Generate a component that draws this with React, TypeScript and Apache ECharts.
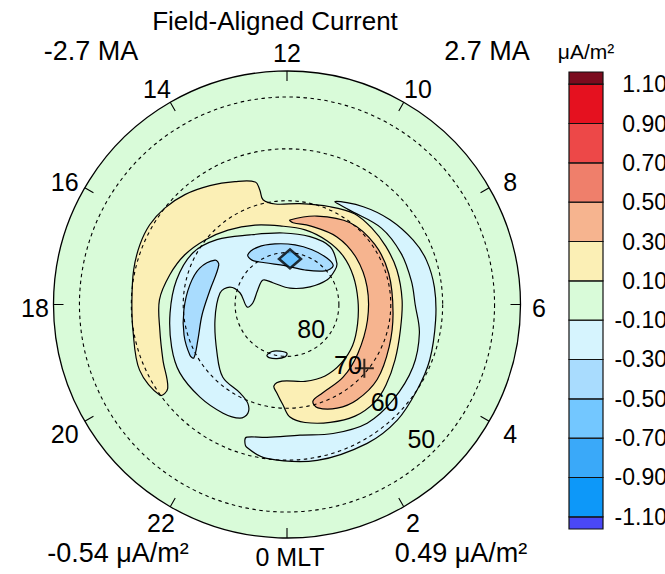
import { useEffect, useRef } from 'react';
import * as echarts from 'echarts';

const TITLE = 'Field-Aligned Current';
const mltTicks = [0, 2, 4, 6, 8, 10, 12, 14, 16, 18, 20, 22];
const latCircles = [80, 70, 60, 50];
const latRange = [45, 90];
const levels = [-1.1, -0.9, -0.7, -0.5, -0.3, -0.1, 0.1, 0.3, 0.5, 0.7, 0.9, 1.1];
const bandColors = ['#4a48f6', '#0d98f9', '#3aa9f9', '#73c7ff', '#a9dcfe', '#d6f4fe', '#d9fbd9', '#fbefb5', '#f6b48f', '#ef7f6b', '#ed4848', '#e5111f', '#7b0b1e'];
const cornerTopLeft = '-2.7 MA';
const cornerTopRight = '2.7 MA';
const cornerBottomLeft = '-0.54 μA/m²';
const cornerBottomRight = '0.49 μA/m²';
const unitLabel = 'μA/m²';

// contour regions, points are [MLT, latitude]
const yellowC = [
  [20.37, 59.9], [19.6, 58.9], [18.63, 59.9], [17.89, 60.1], [17.15, 59.7], [16.53, 59.4], [15.99, 59.4], [15.45, 60.0],
  [14.86, 61.1], [14.2, 62.7], [13.53, 64.3], [12.97, 65.6], [12.89, 67.3], [12.86, 69.3], [12.45, 70.5], [11.51, 70.4],
  [10.41, 69.4], [9.56, 68.2], [8.81, 68.0], [8.03, 67.9], [7.17, 67.8], [6.15, 67.8], [5.15, 67.6], [4.19, 66.6],
  [3.39, 65.4], [2.81, 64.7], [2.09, 64.8], [1.34, 65.8], [0.58, 67.0], [0.1, 68.3], [23.85, 70.6], [23.57, 72.8],
  [23.39, 74.1], [23.75, 75.2], [0.88, 74.8], [1.87, 74.4], [2.85, 74.6], [3.87, 75.1], [4.98, 75.9], [6.23, 76.3],
  [7.54, 76.1], [8.7, 75.7], [9.84, 75.5], [11.09, 75.2], [12.34, 74.8], [13.46, 73.5], [14.56, 71.7], [15.45, 69.9],
  [16.27, 68.1], [17.05, 66.7], [17.86, 65.4], [18.76, 65.0], [19.61, 63.8], [20.34, 61.9],
];
const orangeC = [
  [11.87, 73.7], [10.75, 72.0], [9.49, 70.1], [8.29, 69.5], [7.13, 69.5], [5.7, 69.5], [4.51, 68.7], [3.35, 67.4],
  [2.41, 67.2], [1.72, 67.8], [1.11, 69.2], [1.0, 70.7], [1.44, 71.6], [2.51, 72.3], [3.69, 73.4], [5.26, 74.2],
  [6.83, 74.2], [8.27, 73.9], [9.57, 73.8], [10.91, 74.2], [11.72, 74.2],
];
const blueRight = [
  [10.33, 68.1], [9.47, 66.1], [8.63, 64.3], [7.8, 62.7], [7.17, 61.8], [6.44, 61.4], [5.6, 61.2], [4.59, 60.5],
  [3.78, 60.0], [2.91, 59.2], [2.0, 59.1], [0.73, 59.4], [23.5, 60.1], [22.95, 61.4], [22.85, 62.6], [22.88, 63.3],
  [23.43, 64.1], [0.38, 64.7], [1.31, 63.6], [2.27, 62.4], [3.2, 62.5], [4.24, 62.9], [5.19, 63.9], [6.0, 65.3],
  [6.7, 65.6], [7.6, 65.9], [8.6, 66.6], [9.8, 68.2],
];
const blueC = [
  [8.65, 77.5], [9.55, 76.1], [10.75, 76.2], [12.21, 76.2], [13.87, 74.8], [15.15, 71.6], [16.09, 69.3], [17.16, 68.2],
  [18.28, 67.4], [19.35, 66.3], [20.17, 65.5], [21.12, 65.5], [21.97, 65.7], [22.5, 66.3], [22.68, 67.7], [22.56, 69.5],
  [22.13, 70.7], [21.24, 71.3], [20.31, 73.6], [18.81, 75.8], [17.35, 76.9], [16.87, 78.5], [17.08, 80.7], [18.24, 82.3],
  [17.83, 83.4], [16.23, 83.7], [14.96, 83.4], [14.2, 85.0], [11.31, 86.8], [8.49, 84.4], [8.1, 80.9], [8.38, 78.6],
];
const blueSmall = [
  [22.56, 79.5], [22.82, 80.5], [23.43, 80.9], [24.0, 80.6], [23.85, 79.9], [23.3, 79.4], [22.75, 79.2],
];
const midBlueLeft = [
  [15.89, 73.7], [16.48, 71.8], [17.24, 70.9], [18.2, 70.1], [19.1, 69.3], [19.83, 68.9], [19.99, 69.3], [19.45, 71.5],
  [18.47, 73.5], [17.29, 74.9], [15.99, 74.8],
];
const midBlueTop = [
  [14.55, 77.8], [13.79, 77.6], [12.75, 78.1], [11.49, 78.4], [10.36, 78.4], [9.29, 78.2], [8.66, 78.4], [8.76, 80.2],
  [10.16, 82.5], [12.2, 82.5], [13.86, 80.9], [14.55, 79.1],
];
const minMarker = [81.2, 11.75]; // [lat, MLT]
const maxMarker = [70.7, 3.37];

const regionList = [
  { pts: yellowC, band: 7 },
  { pts: orangeC, band: 8 },
  { pts: blueRight, band: 5 },
  { pts: blueC, band: 5 },
  { pts: blueSmall, band: 5 },
  { pts: midBlueLeft, band: 4 },
  { pts: midBlueTop, band: 4 },
];

const FONT = '"Liberation Sans", Arial, Helvetica, sans-serif';

export default function App() {
  const ref = useRef<HTMLDivElement>(null);
  useEffect(() => {
    document.body.style.margin = '0';
    if (!ref.current) return;
    const chart = echarts.init(ref.current, undefined, { renderer: 'svg' });
    const ext = 0.062;

    const radial = (api: any, lat: number, mlt: number, factor = 1) => {
      const c = api.coord([latRange[1], 0]);
      const e = api.coord([lat, mlt]);
      return [c[0] + (e[0] - c[0]) * factor, c[1] + (e[1] - c[1]) * factor];
    };
    const txt = (x: number, y: number, text: string, size: number, align = 'center') => ({
      type: 'text', x, y,
      style: { text, fontSize: size, fontFamily: FONT, fill: '#000', align, verticalAlign: 'middle' },
    });

    const option: any = {
      animation: false,
      textStyle: { fontFamily: FONT },
      polar: { center: [287, 304.5], radius: 233.5 },
      angleAxis: {
        type: 'value', min: 0, max: 24, interval: 2, startAngle: 270, clockwise: false, z: 20,
        axisLine: { lineStyle: { color: '#000', width: 1.3 } },
        axisTick: { inside: true, length: 10, lineStyle: { color: '#000', width: 1.1 } },
        axisLabel: { show: false },
        splitLine: { show: false },
      },
      radiusAxis: {
        type: 'value', min: latRange[0], max: latRange[1], inverse: true,
        axisLine: { show: false }, axisTick: { show: false }, axisLabel: { show: false }, splitLine: { show: false },
      },
      grid: { left: 569, top: 72, width: 34, height: 457 },
      xAxis: { type: 'value', min: 0, max: 1, show: false },
      yAxis: { type: 'value', min: levels[0] - ext, max: levels[levels.length - 1] + ext, show: false },
      graphic: [
        txt(275, 21, TITLE, 26),
        txt(91, 51, cornerTopLeft, 27),
        txt(487, 51, cornerTopRight, 27),
        txt(118, 553, cornerBottomLeft, 27),
        txt(461, 553, cornerBottomRight, 27),
        txt(586, 51, unitLabel, 21),
      ],
      series: [
        {
          type: 'custom', coordinateSystem: 'polar', z: 1, silent: true,
          data: [[latRange[0], 0]],
          renderItem: (params: any, api: any) => {
            const c = api.coord([latRange[1], 0]);
            const e = api.coord([latRange[0], 0]);
            const r = Math.hypot(e[0] - c[0], e[1] - c[1]);
            return { type: 'circle', shape: { cx: c[0], cy: c[1], r }, style: { fill: bandColors[6] } };
          },
        },
        {
          type: 'custom', coordinateSystem: 'polar', z: 2, silent: true,
          data: regionList.map((r) => [r.pts[0][1], r.pts[0][0]]),
          renderItem: (params: any, api: any) => {
            const reg = regionList[params.dataIndex];
            const points = reg.pts.map(([m, lat]) => api.coord([lat, m]));
            return {
              type: 'polygon',
              shape: { points, smooth: 0.35 },
              style: { fill: bandColors[reg.band], stroke: '#000', lineWidth: 1.2 },
            };
          },
        },
        {
          type: 'custom', coordinateSystem: 'polar', z: 3, silent: true,
          data: latCircles.map((l) => [l, 3]),
          renderItem: (params: any, api: any) => {
            const lat = latCircles[params.dataIndex];
            const c = api.coord([latRange[1], 0]);
            const e = api.coord([lat, 0]);
            const r = Math.hypot(e[0] - c[0], e[1] - c[1]);
            const lp = api.coord([lat + 3.4, 3]);
            return {
              type: 'group',
              children: [
                { type: 'circle', shape: { cx: c[0], cy: c[1], r }, style: { fill: 'none', stroke: '#000', lineWidth: 1.1, lineDash: [3.5, 3.5] } },
                txt(lp[0], lp[1], String(lat), 25),
              ],
            };
          },
        },
        {
          type: 'custom', coordinateSystem: 'polar', z: 3, silent: true,
          data: mltTicks.map((m) => [latRange[0], m]),
          renderItem: (params: any, api: any) => {
            const m = mltTicks[params.dataIndex];
            const p = radial(api, latRange[0], m, 252 / 233.5);
            const dx = m === 0 ? 3 : m === 14 || m === 16 || m === 20 ? -4 : m === 10 || m === 8 || m === 4 ? 5 : 0;
            const dy = m === 0 || m === 12 || m === 22 || m === 2 ? 0 : 3;
            return txt(p[0] + dx, p[1] + dy, m === 0 ? '0 MLT' : String(m), 25);
          },
        },
        {
          type: 'scatter', coordinateSystem: 'polar', z: 5, silent: true,
          data: [minMarker], symbol: 'diamond', symbolSize: [22, 19],
          itemStyle: { color: '#5ebfff', borderColor: '#000', borderWidth: 2.5 },
        },
        {
          type: 'scatter', coordinateSystem: 'polar', z: 5, silent: true,
          data: [maxMarker], symbol: 'path://M10,0L10,20M0,10L20,10', symbolSize: [19, 19],
          itemStyle: { color: 'none', borderColor: '#000', borderWidth: 2 },
        },
        {
          type: 'custom', coordinateSystem: 'cartesian2d', z: 2, silent: true,
          data: bandColors.map((_, i) => [0.5, i]),
          renderItem: (params: any, api: any) => {
            const i = params.dataIndex;
            const lo = i === 0 ? levels[0] - ext : levels[i - 1];
            const hi = i === bandColors.length - 1 ? levels[levels.length - 1] + ext : levels[i];
            const p1 = api.coord([0, hi]);
            const p2 = api.coord([1, lo]);
            return {
              type: 'rect',
              shape: { x: p1[0], y: p1[1], width: p2[0] - p1[0], height: p2[1] - p1[1] },
              style: { fill: bandColors[i], stroke: '#111', lineWidth: 1.2 },
            };
          },
        },
        {
          type: 'custom', coordinateSystem: 'cartesian2d', z: 3, silent: true,
          data: levels.map((v) => [1, v]),
          renderItem: (params: any, api: any) => {
            const v = levels[params.dataIndex];
            const p = api.coord([1, v]);
            return txt(p[0] + 64, p[1], v.toFixed(2), 23, 'right');
          },
        },
      ],
    };
    chart.setOption(option);
    return () => chart.dispose();
  }, []);
  return <div ref={ref} style={{ width: 665, height: 574 }} />;
}
